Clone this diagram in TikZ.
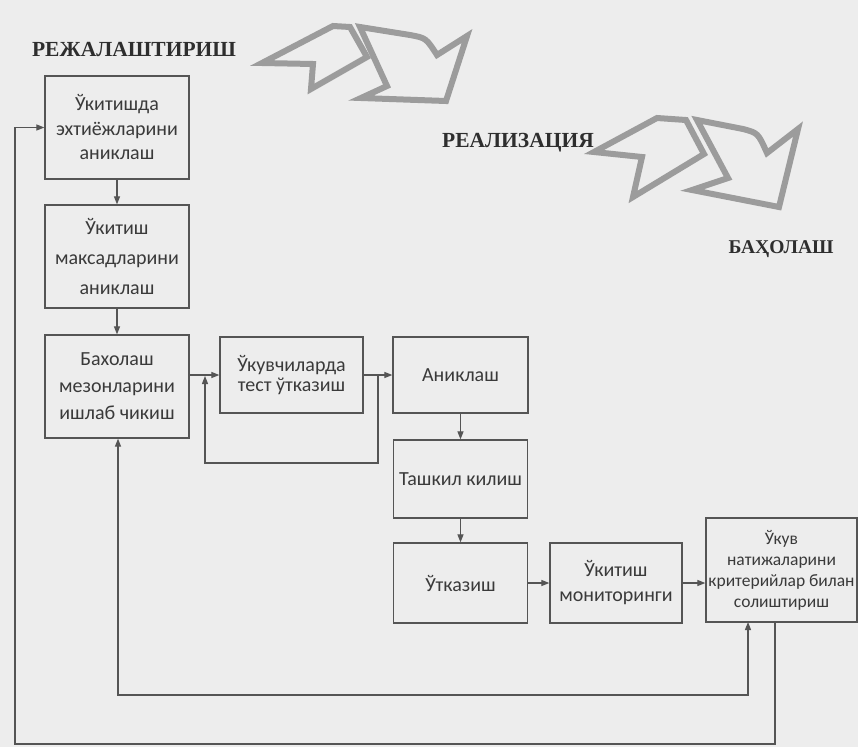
\documentclass[tikz,border=0pt]{standalone}
\usepackage{fontspec}
\setmainfont{Liberation Serif}
\newfontfamily\boxfont{Carlito}
\usetikzlibrary{arrows.meta}
\definecolor{ln}{HTML}{555555}
\definecolor{tx}{HTML}{3A3A3A}
\definecolor{bg}{HTML}{EDEDED}
\definecolor{ar}{HTML}{9C9C9C}
\definecolor{hd}{HTML}{2E2E2E}
\begin{document}
\begin{tikzpicture}[x=1pt,y=-1pt,
  bx/.style={draw=ln, line width=1.3pt, inner sep=0pt, align=center, text=tx,
             font=\boxfont\fontsize{20}{#1}\selectfont},
  hdg/.style={text=hd, inner sep=0pt, font=\fontsize{21.5}{24}\selectfont\bfseries},
  arr/.style={draw=ln, line width=1.2pt, -{Triangle[length=8pt,width=6pt]}},
  arrb/.style={draw=ln, line width=1.2pt, {Triangle[length=8pt,width=6pt]}-{Triangle[length=8pt,width=6pt]}},
  bigarr/.style={draw=ar, line width=6pt, line join=miter, miter limit=8}
]
\useasboundingbox (0,0) rectangle (858,747);
\fill[bg] (0,0) rectangle (858,747);

% headings
\node[hdg] (plan) at (134,50) {РЕЖАЛАШТИРИШ};
\node[hdg, anchor=east] (real) at (594,143) {РЕАЛИЗАЦИЯ};
\node[hdg, font=\fontsize{19.5}{24}\selectfont\bfseries] (eval) at (781,249) {БАҲОЛАШ};

% big arrow 1
\draw[bigarr] (262,63) -- (333,26) -- (350,27) -- (367,57) -- (311,89) -- (313,64) -- cycle;
\draw[bigarr] (360,27) -- (410,35) .. controls (426,38) .. (437,55) -- (467,36) -- (446,101) -- (361,98) -- (387,86) -- cycle;
% big arrow 2
\draw[bigarr] (594,152) -- (657,118) -- (686,120) -- (704,154) -- (633,197) -- (642,157) -- cycle;
\draw[bigarr] (697,120) -- (743,129) .. controls (758,133) .. (767,153) -- (798,129) -- (779,207) -- (692,190) -- (728,178) -- cycle;

% boxes
\node[bx=24.5, minimum width=144pt, minimum height=103pt] (b1) at (117,127.5) {Ўкитишда\\эхтиёжларини\\аниклаш};
\node[bx=30, minimum width=144pt, minimum height=103pt] (b2) at (117,256.5) {Ўкитиш\\максадларини\\аниклаш};
\node[bx=27, minimum width=144pt, minimum height=103pt] (b3) at (117,386.5) {Бахолаш\\мезонларини\\ишлаб чикиш};
\node[bx=20, minimum width=143pt, minimum height=76pt] (b4) at (291.5,375) {Ўкувчиларда\\тест ўтказиш};
\node[bx=20, minimum width=135pt, minimum height=76pt] (b5) at (460.5,375) {Аниклаш};
\node[bx=20, minimum width=134pt, minimum height=78pt] (b6) at (460.5,479) {Ташкил килиш};
\node[bx=20, minimum width=134pt, minimum height=80pt] (b7) at (460.5,583) {Ўтказиш};
\node[bx=25, minimum width=132pt, minimum height=80pt] (b8) at (616,583) {Ўкитиш\\мониторинги};
\node[bx=21, minimum width=151pt, minimum height=104pt, font=\boxfont\fontsize{17.5}{21}\selectfont] (b9) at (781.5,570) {Ўкув\\натижаларини\\критерийлар билан\\солиштириш};

% connectors
\draw[arr] (b1) -- (b2);
\draw[arr] (b2) -- (b3);
\draw[arr] (b3.east |- b4.west) -- (b4.west);
\draw[arr] (b4) -- (b5);
\draw[arr] (b5) -- (b6);
\draw[arr] (b6) -- (b7);
\draw[arr] (b7) -- (b8);
\draw[arr] (b8.east) -- (b8.east -| b9.west);

% feedback loop around test
\coordinate (j1) at (378,375);
\coordinate (c1) at (378,463);
\coordinate (c2) at (205,463);
\coordinate (j0) at (205,376);
\draw[arr] (j1) -- (c1) -- (c2) -- (j0);

% inner loop (b9 <-> b3)
\coordinate (i1) at (748,622);
\coordinate (i2) at (748,695);
\coordinate (i3) at (118,695);
\draw[arrb] (i1) -- (i2) -- (i3) -- (b3.south -| i3);

% outer loop (b9 -> b1)
\coordinate (o1) at (775,622);
\coordinate (o2) at (775,744);
\coordinate (o3) at (15,744);
\coordinate (o4) at (15,127.5);
\draw[arr] (o1) -- (o2) -- (o3) -- (o4) -- (b1.west);
\end{tikzpicture}
\end{document}
